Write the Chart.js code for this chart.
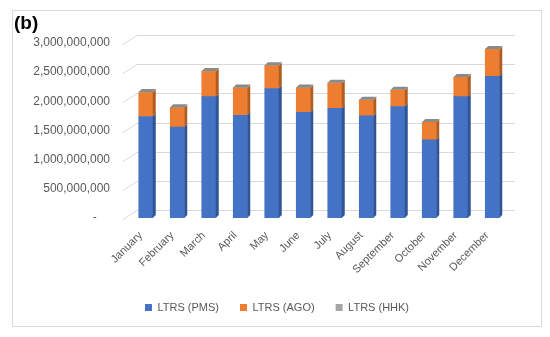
<!DOCTYPE html>
<html>
<head>
<meta charset="utf-8">
<script src="https://cdn.jsdelivr.net/npm/chart.js@4/dist/chart.umd.min.js"></script>
<style>
  html, body { margin: 0; padding: 0; background: #fff; }
  #wrap { position: relative; width: 550px; height: 337px; }
  #frame { position: absolute; left: 12px; top: 10px; width: 530px; height: 317px; border: 1px solid #d9d9d9; box-sizing: border-box; pointer-events: none; }
  #tag { position: absolute; left: 14px; top: 12px; font: bold 19px "Liberation Sans", Arial, sans-serif; color: #000; }
  canvas { position: absolute; left: 0; top: 0; }
</style>
</head>
<body>
<div id="wrap">
  <canvas id="c" width="550" height="337"></canvas>
  <div id="frame"></div>
  <div id="tag">(b)</div>
</div>
<script>
const months = ["January","February","March","April","May","June","July","August","September","October","November","December"];
const pms = [1740000000,1560000000,2080000000,1760000000,2220000000,1810000000,1880000000,1750000000,1910000000,1340000000,2080000000,2430000000];
const ago = [410000000,330000000,430000000,470000000,390000000,420000000,430000000,270000000,280000000,300000000,330000000,460000000];
const hhk = [8000000,7000000,8000000,7000000,8000000,7000000,8000000,7000000,7000000,6000000,8000000,9000000];
const seriesNames = ["LTRS (PMS)","LTRS (AGO)","LTRS (HHK)"];
const yTicks = [0,500000000,1000000000,1500000000,2000000000,2500000000,3000000000];

const faceColors = ["#4472C4","#ED7D31","#A5A5A5"];
const sideColors = ["#2F5597","#B35C1F","#7F7F7F"];
const DEPTH = 7;   // half-depth of the 3D box (front plane to bar plane)
const SIDE = 3;    // visible side width of bars
const LEGEND_SHIFT = 23;

const fmt = v => v === 0 ? "-    " : v.toLocaleString("en-US");

const grid3d = {
  id: "grid3d",
  afterLayout(chart) {
    if (chart.legend) { chart.legend.left += LEGEND_SHIFT; chart.legend.right += LEGEND_SHIFT; }
  },
  beforeDatasetsDraw(chart) {
    const ctx = chart.ctx, y = chart.scales.y, a = chart.chartArea;
    ctx.save();
    ctx.strokeStyle = "#d9d9d9";
    ctx.lineWidth = 1;
    yTicks.forEach(v => {
      const py = Math.round(y.getPixelForValue(v)) + 0.5;
      ctx.beginPath();
      ctx.moveTo(a.left - DEPTH, py + 1);
      ctx.lineTo(a.left + DEPTH, py - 8);
      ctx.lineTo(a.right + DEPTH, py - 8);
      ctx.stroke();
    });
    ctx.restore();
  },
  afterDatasetsDraw(chart) {
    const ctx = chart.ctx;
    ctx.save();
    chart.data.datasets.forEach((ds, di) => {
      const meta = chart.getDatasetMeta(di);
      meta.data.forEach(bar => {
        const p = bar.getProps(["x","y","base","width"], true);
        const r = p.x + p.width / 2, l = p.x - p.width / 2;
        const top = Math.min(p.y, p.base), bot = Math.max(p.y, p.base);
        ctx.fillStyle = sideColors[di];
        ctx.beginPath();
        ctx.moveTo(r, bot);
        ctx.lineTo(r, top);
        ctx.lineTo(r + SIDE, top - SIDE);
        ctx.lineTo(r + SIDE, bot - SIDE);
        ctx.closePath();
        ctx.fill();
        if (di === chart.data.datasets.length - 1) {
          ctx.fillStyle = "#8a8a8a";
          ctx.beginPath();
          ctx.moveTo(l, top);
          ctx.lineTo(l + SIDE, top - SIDE);
          ctx.lineTo(r + SIDE, top - SIDE);
          ctx.lineTo(r, top);
          ctx.closePath();
          ctx.fill();
        }
      });
    });
    ctx.restore();
  }
};

new Chart(document.getElementById("c"), {
  type: "bar",
  data: {
    labels: months,
    datasets: [
      { label: seriesNames[0], data: pms, backgroundColor: faceColors[0] },
      { label: seriesNames[1], data: ago, backgroundColor: faceColors[1] },
      { label: seriesNames[2], data: hhk, backgroundColor: faceColors[2] }
    ]
  },
  plugins: [grid3d],
  options: {
    responsive: false,
    animation: false,
    devicePixelRatio: 1,
    layout: { padding: { left: 0, right: 42, top: 43, bottom: 14 } },
    datasets: { bar: { barThickness: 14, borderWidth: 0 } },
    plugins: {
      legend: {
        position: "bottom",
        labels: {
          boxWidth: 7, boxHeight: 7, padding: 21,
          color: "#595959",
          font: { family: "'Liberation Sans', Arial, sans-serif", size: 11 }
        }
      },
      tooltip: { enabled: false }
    },
    scales: {
      x: {
        stacked: true,
        grid: { display: false, drawTicks: false },
        border: { display: false },
        ticks: {
          minRotation: 45, maxRotation: 45, padding: 11, labelOffset: -5,
          color: "#595959",
          font: { family: "'Liberation Sans', Arial, sans-serif", size: 11 }
        },
        afterFit(s) { s.height = 63; }
      },
      y: {
        stacked: true,
        min: 0, max: 3000000000,
        grid: { display: false, drawTicks: false },
        border: { display: false },
        afterBuildTicks(s) { s.ticks = yTicks.map(v => ({ value: v })); },
        afterFit(s) { s.width = 130; },
        ticks: {
          padding: 20,
          color: "#595959",
          font: { family: "'Liberation Sans', Arial, sans-serif", size: 12 },
          callback: v => fmt(v)
        }
      }
    }
  }
});
</script>
</body>
</html>
